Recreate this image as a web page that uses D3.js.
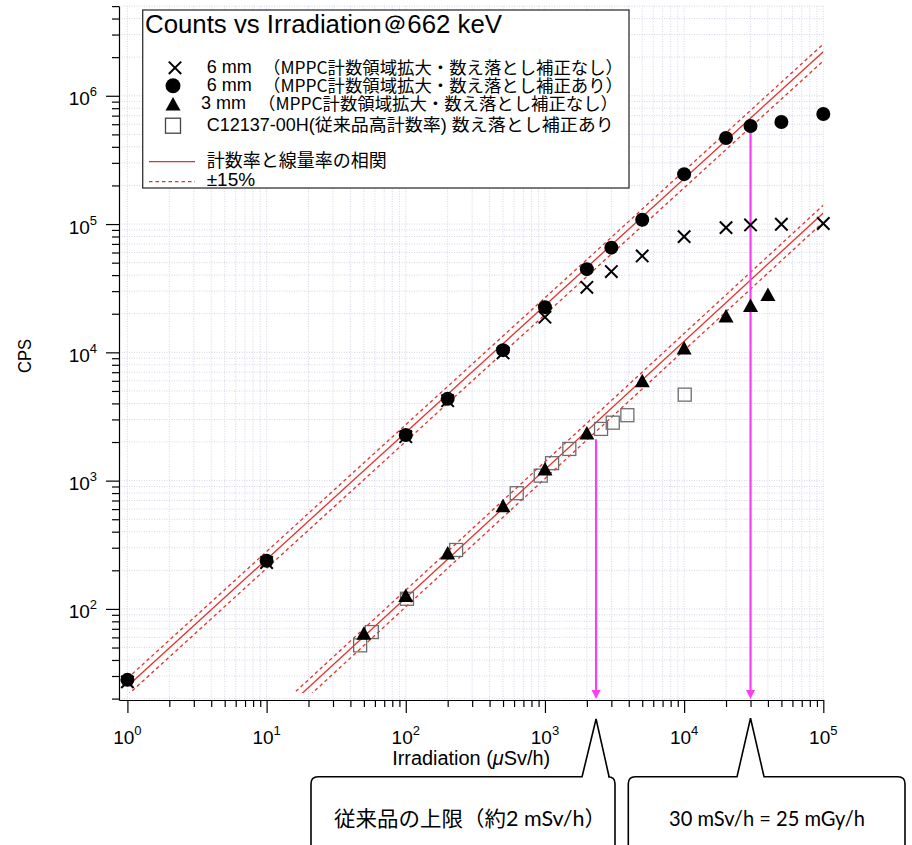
<!DOCTYPE html>
<html><head><meta charset="utf-8">
<script src="https://cdn.jsdelivr.net/npm/d3@7"></script>
<style>body{margin:0;background:#fff}svg{display:block}</style>
</head><body><svg id="c" width="912" height="845"></svg>
<script>
// ---------- data ----------
const irrad6 = [1,10,100,200,500,1000,2000,3000,5000,10000,20000,30000,50000,100000];
const cps6Corrected = [28,237,2270,4340,10400,22500,44500,65500,108000,245000,469000,582000,625000,721000];
const cps6Raw = [27,230,2200,4200,9900,18800,32100,42600,56400,79800,93800,98400,99600,101000];
const irrad3 = [50,100,200,500,1000,2000,5000,10000,20000,30000,40000];
const cps3 = [64,126,270,630,1220,2330,5950,10700,19000,23000,28000];
const irradC = [47,57,102,230,627,933,1125,1497,2530,3070,3910,10100];
const cpsC = [52,66,120,288,798,1094,1368,1766,2530,2830,3236,4680];
const fitUpper = [[1,25],[100000,2200000]];
const fitLower = [[15,18.3],[100000,122000]];
const bandFactors = [1.15, 0.85];
const arrowIrrad = [2330, 30000];
const arrowFromCps = [2100, 560000];
const xExponents = [0,1,2,3,4,5];
const yExponents = [2,3,4,5,6];
const legendTitle = "Counts vs Irradiation＠662 keV";
const legendRows = [
  {sym:"cross", a:"6 mm", b:"（MPPC計数領域拡大・数え落とし補正なし）"},
  {sym:"circle", a:"6 mm", b:"（MPPC計数領域拡大・数え落とし補正あり）"},
  {sym:"triangle", a:"3 mm", b:"（MPPC計数領域拡大・数え落とし補正なし）"},
  {sym:"square", a:"C12137-00H(従来品高計数率) 数え落とし補正あり", b:""}
];
const legendLines = ["計数率と線量率の相関", "±15%"];
const calloutTexts = ["従来品の上限（約2 mSv/h）", "30 mSv/h = 25 mGy/h"];

// ---------- setup ----------
const svg = d3.select("#c");
const x = d3.scaleLog().domain([0.87,1e5]).range([119,823.3]);
const y = d3.scaleLog().domain([19.5,5e6]).range([700,6.1]);
const [X0,X1] = x.range(); const [Y1,Y0] = y.range();
const isPow = d => Math.abs(Math.log10(d) - Math.round(Math.log10(d))) < 1e-9;
const xTicks = x.ticks().filter(d => d >= 1 && d <= 1e5);
const yTicks = y.ticks().filter(d => d >= 20 && d <= 5e6);

// grid
const grid = svg.append("g").attr("stroke","#d3d5e6").attr("stroke-width",1).attr("stroke-dasharray","1,1.5");
grid.selectAll(".gx").data(xTicks).join("line")
  .attr("x1",d=>x(d)).attr("x2",d=>x(d)).attr("y1",Y0).attr("y2",Y1);
grid.selectAll(".gy").data(yTicks).join("line")
  .attr("x1",X0).attr("x2",X1).attr("y1",d=>y(d)).attr("y2",d=>y(d));

// clip
svg.append("clipPath").attr("id","clip").append("rect")
  .attr("x",X0).attr("y",Y0).attr("width",X1-X0).attr("height",693-Y0);

// fit lines
const line = d3.line().x(d=>x(d[0])).y(d=>y(d[1]));
const fits = svg.append("g").attr("clip-path","url(#clip)").attr("fill","none").attr("stroke","#e3312b");
[fitUpper, fitLower].forEach(f => {
  fits.append("path").attr("d", line(f)).attr("stroke-width",1.3);
  bandFactors.forEach(k => {
    fits.append("path").attr("d", line(f.map(p=>[p[0],p[1]*k])))
      .attr("stroke-width",1.3).attr("stroke-dasharray","3.5,3");
  });
});

// magenta arrows
const arr = svg.append("g");
arrowIrrad.forEach((v,i) => {
  const ax = x(v), top = y(arrowFromCps[i]), tip = 699;
  arr.append("line").attr("x1",ax).attr("x2",ax).attr("y1",top).attr("y2",tip-7)
    .attr("stroke","#ff3cf5").attr("stroke-width",2.2);
  arr.append("path").attr("d",`M${ax-4.5},${tip-9}L${ax+4.5},${tip-9}L${ax},${tip}Z`).attr("fill","#ff3cf5");
});

// markers
function drawSym(g, type, cx, cy, legend) {
  if (type==="circle") g.append("circle").attr("cx",cx).attr("cy",cy).attr("r",legend?7.5:7).attr("fill","#000");
  else if (type==="triangle") g.append("path").attr("d",`M${cx},${cy-7.5}L${cx+7.5},${cy+6}L${cx-7.5},${cy+6}Z`).attr("fill","#000");
  else if (type==="cross") { const s=6.2; g.append("path").attr("d",`M${cx-s},${cy-s}L${cx+s},${cy+s}M${cx-s},${cy+s}L${cx+s},${cy-s}`).attr("stroke","#000").attr("stroke-width",2).attr("fill","none"); }
  else if (type==="square") { const s = legend?7.5:6.5; g.append("rect").attr("x",cx-s).attr("y",cy-s).attr("width",2*s).attr("height",2*s).attr("fill","none").attr("stroke", legend?"#444":"#6e6e6e").attr("stroke-width",1.3); }
}
const mk = svg.append("g");
irradC.forEach((v,i)=>drawSym(mk,"square",x(v),y(cpsC[i])));
irrad3.forEach((v,i)=>drawSym(mk,"triangle",x(v),y(cps3[i])));
irrad6.forEach((v,i)=>drawSym(mk,"cross",x(v),y(cps6Raw[i])));
irrad6.forEach((v,i)=>drawSym(mk,"circle",x(v),y(cps6Corrected[i])));

// axes
const xMinor = xTicks.filter(d=>!isPow(d)), xMajor = xExponents.map(e=>Math.pow(10,e));
const yMinor = yTicks.filter(d=>!isPow(d)), yMajor = yExponents.map(e=>Math.pow(10,e));
svg.append("g").attr("transform",`translate(0,${Y1})`)
  .call(d3.axisBottom(x).tickValues(xMinor).tickSize(7).tickFormat(""))
  .call(g=>g.select(".domain").remove());
svg.append("g").attr("transform",`translate(0,${Y1})`)
  .call(d3.axisBottom(x).tickValues(xMajor).tickSize(13).tickSizeOuter(0).tickFormat(""));
svg.append("g").attr("transform",`translate(${X0},0)`)
  .call(d3.axisLeft(y).tickValues(yMinor).tickSize(7).tickFormat(""))
  .call(g=>g.select(".domain").remove());
svg.append("g").attr("transform",`translate(${X0},0)`)
  .call(d3.axisLeft(y).tickValues(yMajor).tickSize(13).tickSizeOuter(0).tickFormat(""));
svg.selectAll(".tick line, .domain").attr("stroke","#000").attr("stroke-width",1.2);

const lblFont = "'Liberation Sans', Arial, sans-serif";
xExponents.forEach(e=>{
  const t = svg.append("text").attr("x",x(Math.pow(10,e))).attr("y",744).attr("text-anchor","middle")
    .attr("font-family",lblFont).attr("font-size",19);
  t.append("tspan").text("10");
  t.append("tspan").attr("font-size",13).attr("dy",-9).text(e);
});
yExponents.forEach(e=>{
  const t = svg.append("text").attr("x",97).attr("y",y(Math.pow(10,e))+9.5).attr("text-anchor","end")
    .attr("font-family",lblFont).attr("font-size",19);
  t.append("tspan").text("10");
  t.append("tspan").attr("font-size",13).attr("dy",-9).text(e);
});
svg.append("text").attr("x",(X0+X1)/2).attr("y",765).attr("text-anchor","middle")
  .attr("font-family",lblFont).attr("font-size",20).attr("textLength",158).attr("lengthAdjust","spacingAndGlyphs")
  .html("Irradiation (<tspan font-style='italic'>μ</tspan>Sv/h)");
svg.append("text").attr("transform",`translate(31,356) rotate(-90)`).attr("text-anchor","middle")
  .attr("font-family",lblFont).attr("font-size",19).attr("textLength",34).attr("lengthAdjust","spacingAndGlyphs").text("CPS");

// legend
const lg = svg.append("g");
lg.append("rect").attr("x",142.7).attr("y",10).attr("width",486.3).attr("height",178)
  .attr("fill","#fff").attr("stroke","#333").attr("stroke-width",1.3);
lg.append("text").attr("x",145).attr("y",33).attr("font-family",lblFont).attr("font-size",25)
  .attr("textLength",357).attr("lengthAdjust","spacingAndGlyphs").text(legendTitle);
const cjk = "'Noto Sans CJK JP', sans-serif";
const rowY = [72.7, 90.5, 109, 130];
const symY = [67.8, 85.7, 104.5, 125.7];
const aX = [206.7, 206.7, 201, 206.7];
const bX = [263, 263, 258, 0];
legendRows.forEach((r,i)=>{
  drawSym(lg, r.sym, r.sym==="cross"?175:173, symY[i], true);
  if (r.b) {
    lg.append("text").attr("x",aX[i]).attr("y",rowY[i]).attr("font-family",lblFont).attr("font-size",18).text(r.a);
    lg.append("text").attr("x",bX[i]).attr("y",rowY[i]+1).attr("font-family",cjk).attr("font-size",17)
      .attr("textLength",360).attr("lengthAdjust","spacingAndGlyphs").text(r.b);
  } else {
    lg.append("text").attr("x",aX[i]).attr("y",rowY[i]+1).attr("font-family",lblFont+","+cjk).attr("font-size",17.5)
      .attr("textLength",407).attr("lengthAdjust","spacingAndGlyphs").text(r.a);
  }
});
lg.append("line").attr("x1",149).attr("x2",195).attr("y1",161.7).attr("y2",161.7).attr("stroke","#e3312b").attr("stroke-width",1.3);
lg.append("line").attr("x1",149).attr("x2",195).attr("y1",181.7).attr("y2",181.7).attr("stroke","#e3312b").attr("stroke-width",1.3).attr("stroke-dasharray","3.5,3");
lg.append("text").attr("x",206.7).attr("y",167).attr("font-family",cjk).attr("font-size",18).text(legendLines[0]);
lg.append("text").attr("x",206.7).attr("y",185.5).attr("font-family",lblFont).attr("font-size",19).text(legendLines[1]);

// callouts
function callout(left, right, top, apexX, apexY, b1, b2) {
  const r = 7, bottom = 880;
  const p = `M${left},${bottom}L${left},${top+r}Q${left},${top} ${left+r},${top}L${b1},${top}L${apexX},${apexY}L${b2},${top}L${right-r},${top}Q${right},${top} ${right},${top+r}L${right},${bottom}`;
  svg.append("path").attr("d",p).attr("fill","#fff").attr("stroke","#000").attr("stroke-width",1.6);
}
const ax1 = x(arrowIrrad[0]), ax2 = x(arrowIrrad[1]);
callout(311, 615, 776.7, ax1, 719, ax1-14, ax1+13);
callout(628.3, 905, 776.7, ax2, 718.3, ax2-13.5, ax2+13.5);
const cfont = "Lato, 'Noto Sans CJK JP', sans-serif";
svg.append("text").attr("x",334).attr("y",826).attr("font-family",cfont).attr("font-size",21)
  .attr("textLength",272).attr("lengthAdjust","spacingAndGlyphs").text(calloutTexts[0]);
svg.append("text").attr("x",669).attr("y",826).attr("font-family",cfont).attr("font-size",21)
  .attr("textLength",196).attr("lengthAdjust","spacingAndGlyphs").text(calloutTexts[1]);
</script></body></html>
